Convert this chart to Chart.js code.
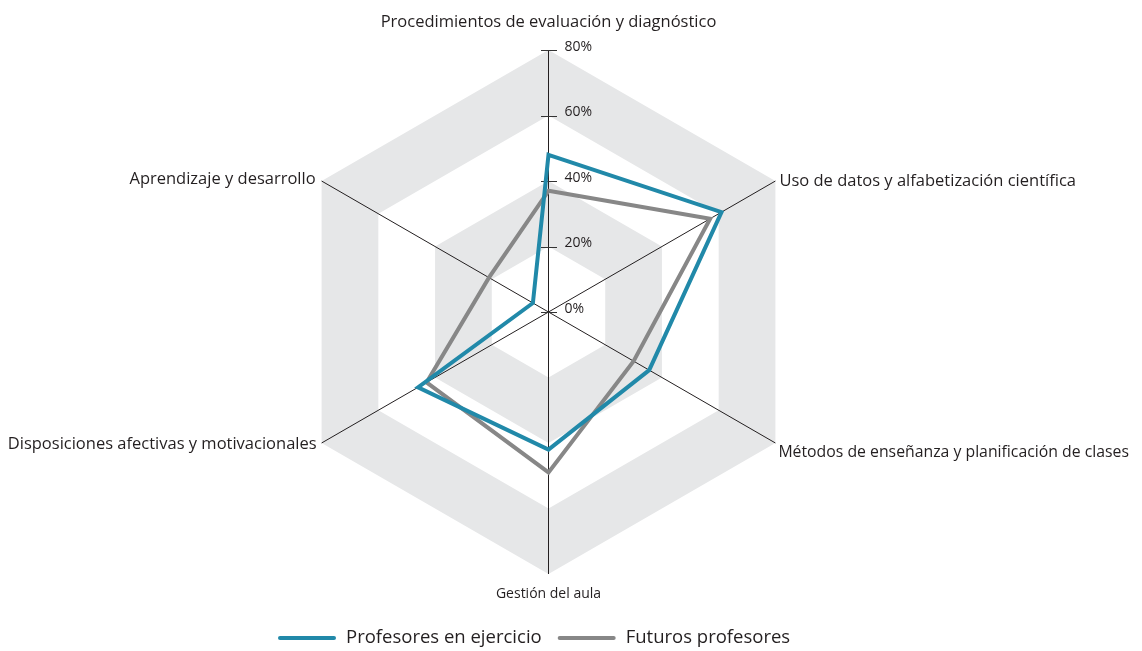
<!DOCTYPE html>
<html>
<head>
<meta charset="utf-8">
<script src="https://cdn.jsdelivr.net/npm/chart.js@4.4.0/dist/chart.umd.min.js"></script>
<style>
  html, body { margin: 0; padding: 0; background: #fff; }
  #wrap { width: 1142px; height: 651px; }
</style>
</head>
<body>
<div id="wrap"><canvas id="mycanvas" width="1142" height="651"></canvas></div>
<script>
var categories = [
  "Procedimientos de evaluación y diagnóstico",
  "Uso de datos y alfabetización científica",
  "Métodos de enseñanza y planificación de clases",
  "Gestión del aula",
  "Disposiciones afectivas y motivacionales",
  "Aprendizaje y desarrollo"
];
var profesores = [48, 61, 35.5, 42, 46, 5.5];
var futuros = [37, 57, 30, 49, 43, 21];
var tickValues = [0, 20, 40, 60, 80];
var seriesNames = ["Profesores en ejercicio", "Futuros profesores"];

var azul = "#2189a9";
var gris = "#878787";
var banda = "#e6e7e8";
var texto = "#231f20";
var fuente = "'Open Sans', sans-serif";

// where each category label sits relative to its outer vertex
var labelPlace = [
  { align: "center", dx: 0, dy: -28, size: 16.5 },
  { align: "left", dx: 4, dy: 0, size: 16.5 },
  { align: "left", dx: 3, dy: 9, size: 15.8 },
  { align: "center", dx: 0, dy: 20, size: 14 },
  { align: "right", dx: -5, dy: 1, size: 16.5 },
  { align: "right", dx: -6, dy: -2, size: 16.5 }
];

function hexPath(ctx, scale, value) {
  var d = scale.getDistanceFromCenterForValue(value);
  for (var i = 0; i < categories.length; i++) {
    var p = scale.getPointPosition(i, d);
    if (i === 0) ctx.moveTo(p.x, p.y); else ctx.lineTo(p.x, p.y);
  }
  ctx.closePath();
}

var bandas = {
  id: "bandas",
  afterLayout: function(chart) {
    // half pixel shift so the vertical axis line is crisp
    chart.scales.r.xCenter += 0.5;
  },
  beforeDraw: function(chart) {
    var r = chart.scales.r, ctx = chart.ctx;
    ctx.save();
    ctx.fillStyle = banda;
    // grey between 60-80 and 20-40
    ctx.beginPath();
    hexPath(ctx, r, 80);
    hexPath(ctx, r, 60);
    hexPath(ctx, r, 40);
    hexPath(ctx, r, 20);
    ctx.fill("evenodd");
    ctx.restore();
  }
};

var marcas = {
  id: "marcas",
  beforeDatasetsDraw: function(chart) {
    var r = chart.scales.r, ctx = chart.ctx;
    ctx.save();
    ctx.strokeStyle = "#333";
    ctx.lineWidth = 1;
    ctx.fillStyle = texto;
    ctx.font = "14px " + fuente;
    ctx.textAlign = "left";
    ctx.textBaseline = "middle";
    for (var i = 0; i < tickValues.length; i++) {
      var d = r.getDistanceFromCenterForValue(tickValues[i]);
      var p = r.getPointPosition(0, d);
      var y = Math.round(p.y) + 0.5;
      ctx.beginPath();
      ctx.moveTo(p.x - 7.5, y);
      ctx.lineTo(p.x + 8.5, y);
      ctx.stroke();
      ctx.fillText(tickValues[i] + "%", p.x + 16, p.y - 3);
    }
    ctx.restore();
  }
};

var etiquetas = {
  id: "etiquetas",
  afterDraw: function(chart) {
    var r = chart.scales.r, ctx = chart.ctx;
    ctx.save();
    ctx.fillStyle = texto;
    ctx.textBaseline = "middle";
    for (var i = 0; i < categories.length; i++) {
      var p = r.getPointPosition(i, r.drawingArea);
      var c = labelPlace[i];
      ctx.font = c.size + "px " + fuente;
      ctx.textAlign = c.align;
      ctx.fillText(categories[i], p.x + c.dx, p.y + c.dy);
    }

    // legend
    var colores = [azul, gris];
    var x = 280, y = 638;
    ctx.font = "18.5px " + fuente;
    ctx.textAlign = "left";
    for (var j = 0; j < seriesNames.length; j++) {
      ctx.strokeStyle = colores[j];
      ctx.lineWidth = 4;
      ctx.lineCap = "round";
      ctx.beginPath();
      ctx.moveTo(x, y);
      ctx.lineTo(x + 54, y);
      ctx.stroke();
      ctx.fillText(seriesNames[j], x + 66, y);
      x = x + 66 + ctx.measureText(seriesNames[j]).width + 18;
    }
    ctx.restore();
  }
};

var chartdata = {
  labels: categories,
  datasets: [
    {
      label: seriesNames[0],
      data: profesores,
      borderColor: azul,
      backgroundColor: "transparent",
      borderWidth: 4,
      fill: false,
      pointRadius: 0,
      pointHoverRadius: 0
    },
    {
      label: seriesNames[1],
      data: futuros,
      borderColor: gris,
      backgroundColor: "transparent",
      borderWidth: 4,
      fill: false,
      pointRadius: 0,
      pointHoverRadius: 0
    }
  ]
};

var ctx = document.getElementById("mycanvas");
var radar = new Chart(ctx, {
  type: "radar",
  data: chartdata,
  options: {
    responsive: false,
    animation: false,
    devicePixelRatio: 1,
    layout: { padding: { top: 50, bottom: 77, left: 286, right: 332 } },
    plugins: {
      legend: { display: false },
      tooltip: { enabled: false }
    },
    elements: { line: { tension: 0, borderJoinStyle: "miter" } },
    scales: {
      r: {
        min: 0,
        max: 80,
        ticks: { display: false, stepSize: 20 },
        grid: { display: false },
        angleLines: { display: true, color: texto, lineWidth: 1 },
        pointLabels: { display: false }
      }
    }
  },
  plugins: [bandas, marcas, etiquetas]
});
</script>
</body>
</html>
